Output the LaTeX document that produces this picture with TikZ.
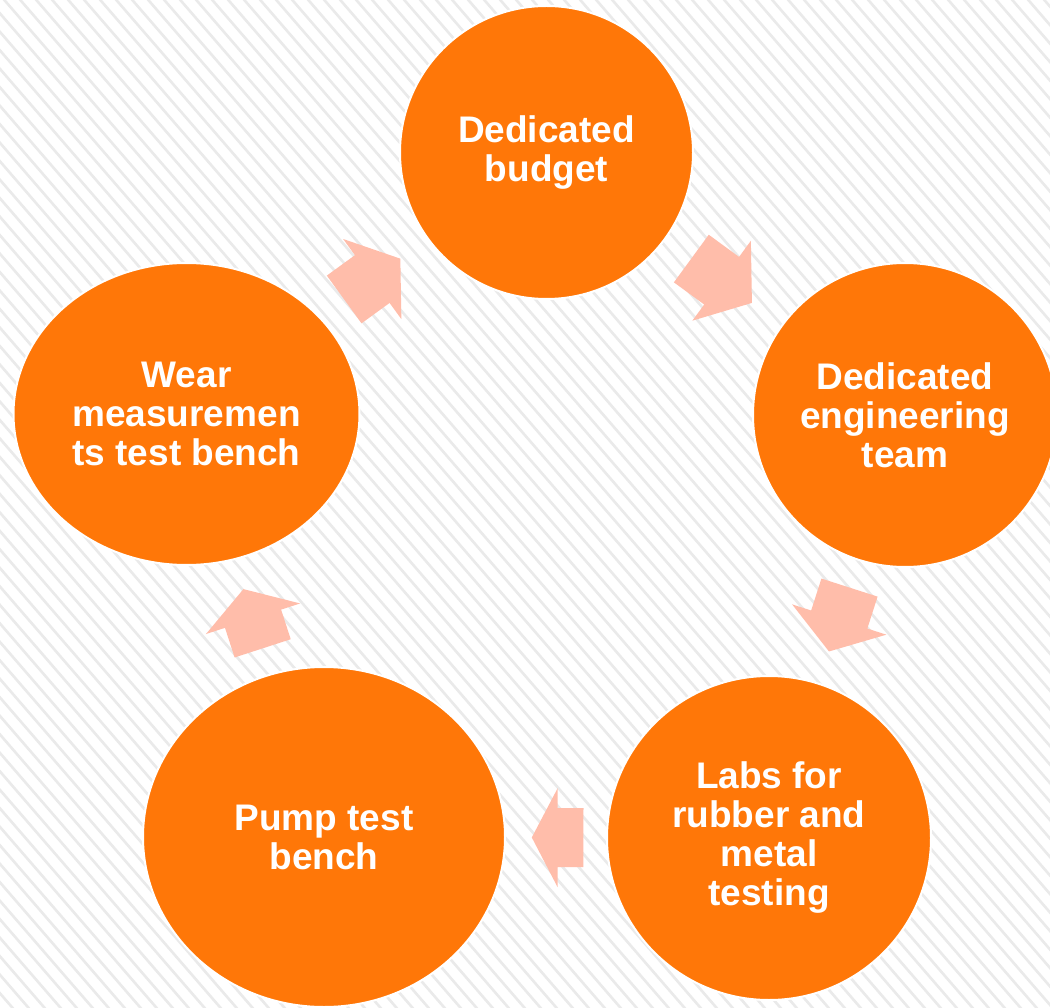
\documentclass[tikz,border=0pt]{standalone}
\usepackage{fontspec}
\setmainfont{Liberation Sans}
\usetikzlibrary{shapes.geometric,calc}
\definecolor{orng}{HTML}{FF7708}
\definecolor{pinkarrow}{HTML}{FFBDAA}
\definecolor{stripecol}{HTML}{EAEAEA}
\tikzset{
  stage/.style={ellipse, fill=orng, draw=white, line width=2pt, inner sep=0pt,
    text=white, font=\fontsize{37}{39}\selectfont\bfseries, align=center},
  stripeline/.style={draw=stripecol, line width=2.6pt},
  blockarrow/.style={fill=pinkarrow, draw=none},
}
\newcommand\cyclearrow[4]{%
  \coordinate (T) at ($(#1.center)!#3!(#2.center)$);
  \coordinate (P) at ($(#1.center)!#4!(#2.center)$);
  \coordinate (H) at ($(T)!0.5!(P)$);
  \fill[blockarrow] ($(T)!29.5pt!90:(P)$) -- ($(H)!29.5pt!90:(P)$) -- ($(H)!49.5pt!90:(P)$)
    -- (P) -- ($(H)!49.5pt!-90:(P)$) -- ($(H)!29.5pt!-90:(P)$) -- ($(T)!29.5pt!-90:(P)$) -- cycle;
}
\begin{document}
\begin{tikzpicture}[x=1pt,y=-1pt]
  \useasboundingbox (0,0) rectangle (1050,1008);
  \clip (0,0) rectangle (1050,1008);
  \fill[white] (0,0) rectangle (1050,1008);
  \foreach \i in {-56,...,66}
    \draw[stripeline] (\i*16,-5) -- (\i*16+881,1013);

  \node[stage, minimum width=293pt, minimum height=293pt] (budget) at (546.5,152.5) {Dedicated\\budget};
  \node[stage, minimum width=304pt, minimum height=304pt] (eng) at (905,415) {Dedicated\\engineering\\team};
  \node[stage, minimum width=324pt, minimum height=324pt] (labs) at (769,838) {Labs for\\rubber and\\metal\\testing};
  \node[stage, minimum width=362pt, minimum height=340pt] (pump) at (324,837) {Pump test\\bench};
  \node[stage, minimum width=346pt, minimum height=302pt] (wear) at (186.5,414) {Wear\\measuremen\\ts test bench};

  \cyclearrow{budget}{eng}{0.404}{0.573}
  \cyclearrow{eng}{labs}{0.408}{0.559}
  \cyclearrow{labs}{pump}{0.417}{0.533}
  \cyclearrow{pump}{wear}{0.446}{0.586}
  \cyclearrow{wear}{budget}{0.438}{0.594}
\end{tikzpicture}
\end{document}
